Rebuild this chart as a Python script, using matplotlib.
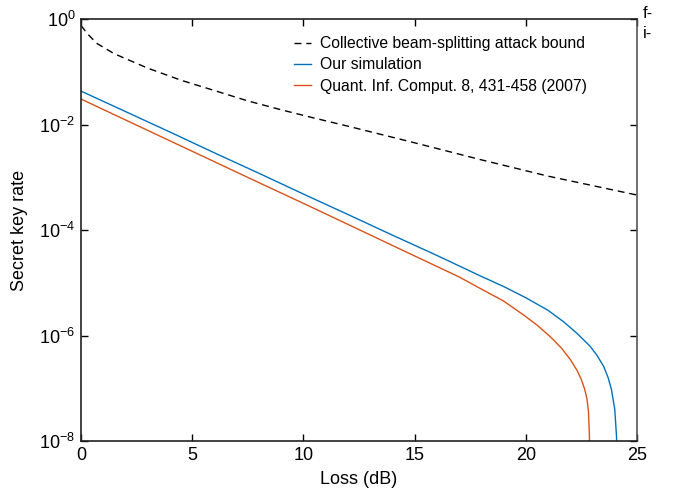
import numpy as np
from matplotlib import pyplot as plt
from matplotlib.ticker import FixedLocator

plt.rcParams['font.family'] = ['Liberation Sans', 'DejaVu Sans']
plt.rcParams['mathtext.default'] = 'regular'
plt.rcParams['axes.unicode_minus'] = False

# bound (dashed)
loss_bound = [0, 0.3, 0.7, 1.5, 3, 4.5, 6, 7.5, 9, 10.5, 12, 15, 18, 21, 25]
rate_bound = [0.75, 0.52, 0.347, 0.219, 0.117, 6.9e-2, 4.4e-2, 2.8e-2, 1.9e-2,
              1.32e-2, 9.3e-3, 4.5e-3, 2.14e-3, 1.05e-3, 4.6e-4]

# our simulation (blue)
loss_sim = [0, 2, 4, 6, 8, 10, 12, 14, 16, 18, 19, 20, 21, 21.7, 22.3, 22.9,
            23.2, 23.5, 23.7, 23.85, 24.0, 24.08, 24.1]
rate_sim = [4.3e-2, 1.76e-2, 7.2e-3, 2.9e-3, 1.19e-3, 4.8e-4, 1.97e-4, 8.0e-5,
            3.3e-5, 1.32e-5, 8.5e-6, 5.2e-6, 3.0e-6, 1.82e-6, 1.1e-6, 6.2e-7,
            4.2e-7, 2.6e-7, 1.6e-7, 9.5e-8, 4.0e-8, 1.2e-8, 3e-9]

# Quant. Inf. Comput. 8 (orange)
loss_ref = [0, 2, 4, 6, 8, 10, 12, 14, 16, 17, 18, 19, 19.9, 20.5, 21.1, 21.6,
            22.0, 22.3, 22.5, 22.65, 22.75, 22.82, 22.86, 22.88]
rate_ref = [3.04e-2, 1.22e-2, 4.9e-3, 1.97e-3, 7.9e-4, 3.2e-4, 1.28e-4, 5.1e-5,
            2.04e-5, 1.29e-5, 7.6e-6, 4.5e-6, 2.45e-6, 1.58e-6, 9.5e-7, 5.8e-7,
            3.5e-7, 2.2e-7, 1.45e-7, 9.5e-8, 6.3e-8, 3.5e-8, 1.25e-8, 3e-9]

labels = ["Collective beam-splitting attack bound", "Our simulation",
          "Quant. Inf. Comput. 8, 431-458 (2007)"]

fig = plt.figure(figsize=(6.78, 4.99), dpi=100)
ax = fig.add_axes([81/678, 1-441/499, (637-81)/678, (441-19)/499])

ax.semilogy(loss_bound, rate_bound, color='black', lw=1, dashes=(5, 3.5), label=labels[0])
ax.semilogy(loss_sim, rate_sim, color='#0072BD', lw=1.0, label=labels[1])
ax.semilogy(loss_ref, rate_ref, color='#D95319', lw=1.0, label=labels[2])

ax.set_xlim(0, 25)
ax.set_ylim(1e-8, 1e0)
ax.xaxis.set_major_locator(FixedLocator([0, 5, 10, 15, 20, 25]))
ax.yaxis.set_major_locator(FixedLocator([1e-8, 1e-6, 1e-4, 1e-2, 1e0]))
ax.yaxis.set_minor_locator(FixedLocator([]))
ax.tick_params(direction='in', length=5, width=1, top=True, right=True,
               labelsize=13, pad=4)
for s in ax.spines.values():
    s.set_linewidth(1.2)
    s.set_color('#222222')
ax.spines['right'].set_color('#555555')

ax.set_xlabel("Loss (dB)", fontsize=13, labelpad=5)
ax.set_ylabel("Secret key rate", fontsize=13, labelpad=8)

ax.legend(loc='upper right', bbox_to_anchor=(0.935, 0.993), frameon=False,
          fontsize=11.3, handlelength=1.1, handletextpad=0.57, labelspacing=0.4)

fig.text(643/678, 1-13/499, "f-", fontsize=12, va='center')
fig.text(643/678, 1-33/499, "i-", fontsize=12, va='center')

plt.savefig("out.png", dpi=100)
